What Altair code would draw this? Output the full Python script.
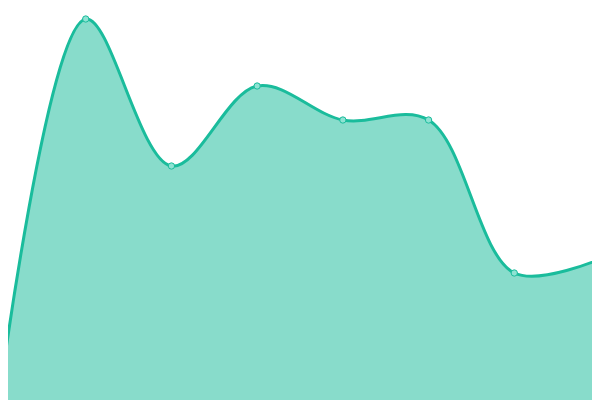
import altair as alt
import pandas as pd

idx = [0, 1, 2, 3, 4, 5, 6, 7]
values = [7, 381, 234, 314, 280, 280, 127, 141]

df = pd.DataFrame({"i": idx, "v": values})

x = alt.X("i:Q", scale=alt.Scale(domain=[0, 7], range=[-8, 592], nice=False, zero=False), axis=None)
y = alt.Y("v:Q", scale=alt.Scale(domain=[0, 400], range=[392, -8], nice=False), axis=None)

base = alt.Chart(df)
area = base.mark_area(interpolate="catmull-rom", color="#1abc9c", fillOpacity=0.52,
                      line={"color": "#1abc9c", "strokeWidth": 3, "interpolate": "catmull-rom"}).encode(x=x, y=y)
pts = base.mark_point(filled=True, size=40, fill="#8ee3d3", stroke="#1abc9c",
                      strokeWidth=1, opacity=1).encode(x=x, y=y)

chart = (area + pts).properties(
    width=584, height=392, padding=0, autosize=alt.AutoSizeParams(type="none")
).configure_view(stroke=None)

chart.save("out.html", embed_options={"renderer": "svg", "actions": False})
